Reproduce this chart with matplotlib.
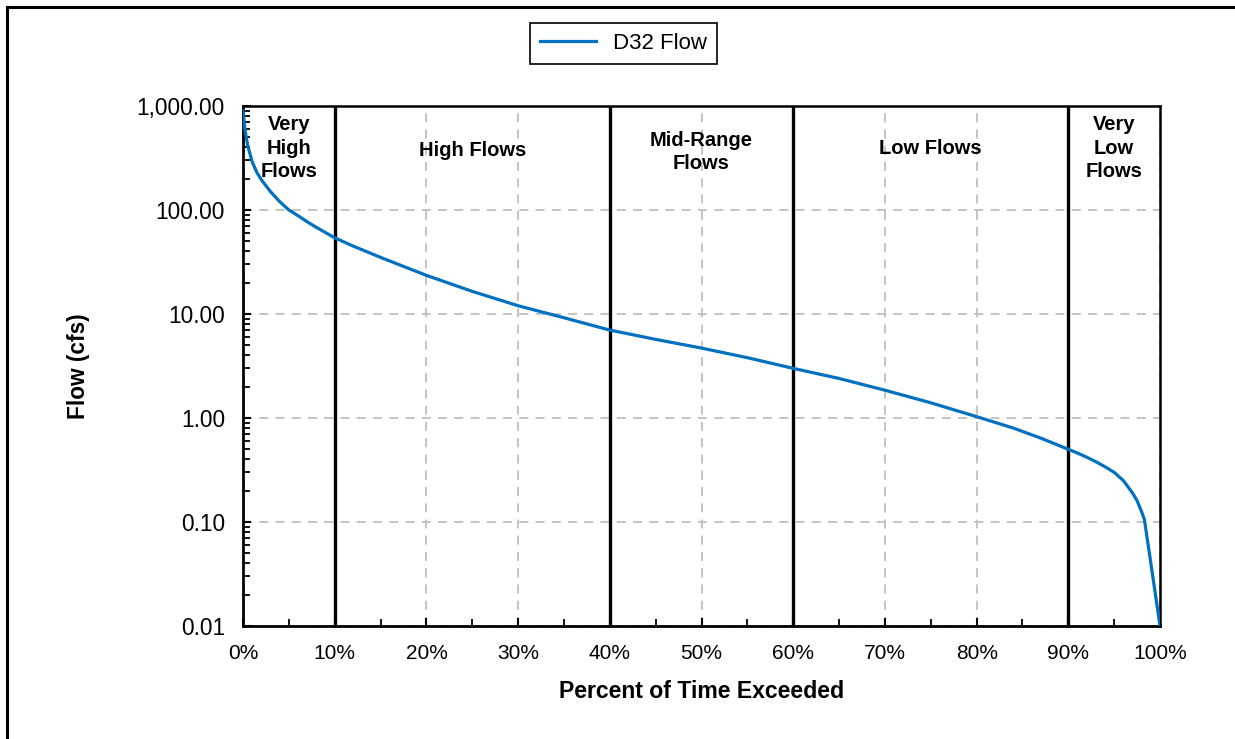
"""Flow duration curve for D32 with flow-regime zones."""

import matplotlib
matplotlib.use("Agg")
import matplotlib.pyplot as plt
from matplotlib.patches import Rectangle
from matplotlib.ticker import FixedLocator, FuncFormatter, LogLocator, NullFormatter

plt.rcParams["font.family"] = ["Liberation Sans", "DejaVu Sans"]

# percent of time exceeded vs flow (cfs)
PERCENT = [0, 0.2, 0.5, 1, 1.5, 2, 3, 4, 5, 6, 7, 8, 10, 12, 15, 20, 25, 30, 35,
           40, 45, 50, 55, 60, 65, 70, 75, 80, 84, 87, 90, 91, 92, 93, 94, 95,
           96, 97, 97.5, 98, 98.3, 99, 99.5, 100]
FLOW = [900, 600, 420, 290, 230, 195, 150, 120, 100, 88, 77, 68, 54, 45, 35, 23.5,
        16.5, 12.0, 9.2, 7.0, 5.7, 4.7, 3.8, 3.0, 2.4, 1.85, 1.4, 1.03, 0.8, 0.64,
        0.5, 0.46, 0.42, 0.38, 0.34, 0.3, 0.25, 0.19, 0.16, 0.125, 0.105, 0.04,
        0.02, 0.01]

ZONE_BOUNDS = [10, 40, 60, 90]
ZONE_LABELS = ["Very\nHigh\nFlows", "High Flows", "Mid-Range\nFlows", "Low Flows",
               "Very\nLow\nFlows"]
ZONE_CENTERS = [5, 25, 50, 75, 95]
ZONE_TOPS = [0.982, 0.933, 0.952, 0.937, 0.982]

Y_TICKS = [0.01, 0.1, 1, 10, 100, 1000]
X_TICKS = list(range(0, 101, 10))

fig = plt.figure(figsize=(12.35, 7.39), dpi=100)
ax = fig.add_axes([0.1968, 0.1529, 0.7425, 0.7037])

ax.set_yscale("log")
ax.set_xlim(0, 100)
ax.set_ylim(0.01, 1000)

ax.grid(True, which="major", color="#bfbfbf", linestyle=(0, (5, 4)), linewidth=1.3)
ax.set_axisbelow(True)

line, = ax.plot(PERCENT, FLOW, color="#0070C0", linewidth=2.3, label="D32 Flow",
                zorder=3)

for b in ZONE_BOUNDS:
    ax.axvline(b, color="black", linewidth=2.4, zorder=2)

for xc, yt, lab in zip(ZONE_CENTERS, ZONE_TOPS, ZONE_LABELS):
    ax.text(xc, yt, lab, transform=ax.get_xaxis_transform(), ha="center", va="top",
            fontsize=14.5, fontweight="bold", linespacing=1.3)

ax.xaxis.set_major_locator(FixedLocator(X_TICKS))
ax.xaxis.set_minor_locator(FixedLocator(range(5, 100, 10)))
ax.xaxis.set_major_formatter(FuncFormatter(lambda v, _: f"{v:.0f}%"))
ax.yaxis.set_major_locator(FixedLocator(Y_TICKS))
ax.yaxis.set_minor_locator(LogLocator(base=10, subs=range(2, 10)))
ax.yaxis.set_minor_formatter(NullFormatter())
ax.yaxis.set_major_formatter(FuncFormatter(lambda v, _: f"{v:,.2f}"))

ax.tick_params(which="both", direction="in", color="black")
ax.tick_params(which="major", length=6, width=1.5)
ax.tick_params(which="minor", length=5, width=1.3)
ax.tick_params(axis="x", which="major", labelsize=15, pad=13)
ax.tick_params(axis="y", which="major", labelsize=16.3, pad=13)

for side in ("left", "bottom"):
    ax.spines[side].set_linewidth(2)
for side in ("top", "right"):
    ax.spines[side].set_linewidth(1.8)

ax.set_xlabel("Percent of Time Exceeded", fontsize=16.6, fontweight="bold", labelpad=12)
ax.set_ylabel("Flow (cfs)", fontsize=16.3, fontweight="bold", labelpad=34)

leg = fig.legend(handles=[line], loc="center", bbox_to_anchor=(0.505, 0.9418),
                 fontsize=16, frameon=True, fancybox=False, edgecolor="black",
                 framealpha=1, handlelength=2.5, borderpad=0.45)
leg.get_frame().set_linewidth(1.2)

fig.add_artist(Rectangle((7 / 1235, -0.1), 1.2, 1.1 - 7 / 739, transform=fig.transFigure,
                         fill=False, edgecolor="black", linewidth=2.2, clip_on=False))

fig.savefig("out.png", dpi=100)
